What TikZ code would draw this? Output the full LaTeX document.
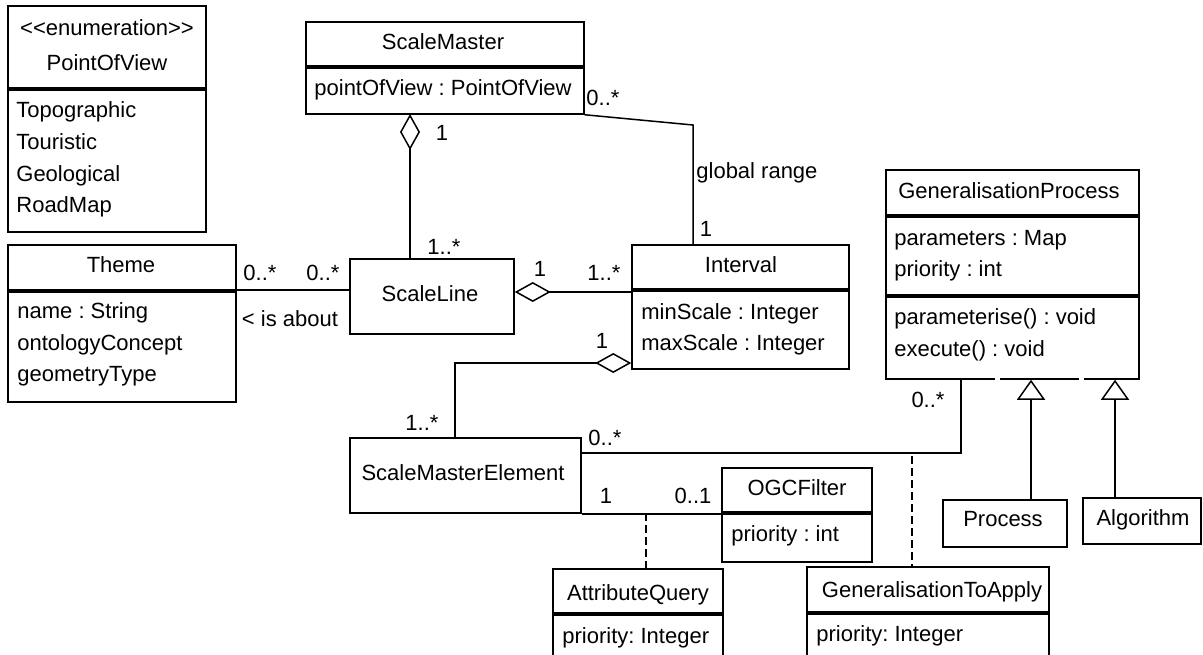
\documentclass[tikz,border=0pt]{standalone}
\usepackage{fontspec}
\setmainfont{Liberation Sans}
\usetikzlibrary{arrows.meta}
\frenchspacing

\tikzset{
  classbox/.style={rectangle, draw=black, line width=0.75pt, inner sep=0pt},
  sepline/.style={line width=1.6pt},
  clsname/.style={anchor=base, inner sep=0pt},
  clsattr/.style={anchor=base west, inner sep=0pt},
  multlabel/.style={anchor=base, inner sep=0pt},
  assoc/.style={line width=0.75pt},
  assocdash/.style={line width=0.75pt, dash pattern=on 4pt off 2pt},
  aggreg/.style={line width=0.75pt, -{Diamond[open, length=18pt, width=10pt]}},
  general/.style={line width=0.75pt, -{Triangle[open, length=10pt, width=14pt]}}
}

\begin{document}
\begin{tikzpicture}[x=0.5pt, y=-0.5pt, font=\fontsize{11pt}{13pt}\selectfont]
  \useasboundingbox (0,0) rectangle (1203,654);

  \node[classbox, minimum width=99pt, minimum height=113pt] (pov) at (107,119) {};
  \node[classbox, minimum width=139pt, minimum height=46pt] (sm) at (445,68) {};
  \node[classbox, minimum width=114pt, minimum height=78.5pt] (theme) at (122,323.5) {};
  \node[classbox, minimum width=82pt, minimum height=37.5pt] (sl) at (432,296.5) {};
  \node[classbox, minimum width=108.5pt, minimum height=62pt] (iv) at (740.5,307) {};
  \node[classbox, minimum width=126.5pt, minimum height=104.5pt] (gp) at (1012.5,274.5) {};
  \node[classbox, minimum width=115.5pt, minimum height=37.5pt] (sme) at (465.5,475.5) {};
  \node[classbox, minimum width=75pt, minimum height=47pt] (ogc) at (797,515) {};
  \node[classbox, minimum width=85pt, minimum height=45.5pt] (aq) at (638,614.5) {};
  \node[classbox, minimum width=121pt, minimum height=46.5pt] (gta) at (928,613.5) {};
  \node[classbox, minimum width=62pt, minimum height=23.5pt] (proc) at (1005,523.5) {};
  \node[classbox, minimum width=59pt, minimum height=23pt] (algo) at (1142,521) {};

  \draw[sepline] (pov.west |- 0,89) -- (pov.east |- 0,89);
  \draw[sepline] (sm.west |- 0,67) -- (sm.east |- 0,67);
  \draw[sepline] (theme.west |- 0,291) -- (theme.east |- 0,291);
  \draw[sepline] (iv.west |- 0,290) -- (iv.east |- 0,290);
  \draw[sepline] (gp.west |- 0,216) -- (gp.east |- 0,216);
  \draw[sepline] (gp.west |- 0,296) -- (gp.east |- 0,296);
  \draw[sepline] (ogc.west |- 0,513) -- (ogc.east |- 0,513);
  \draw[sepline] (aq.west |- 0,614) -- (aq.east |- 0,614);
  \draw[sepline] (gta.west |- 0,613) -- (gta.east |- 0,613);
  \draw[white, line width=1.5pt] (995,379) -- (1000,379);
  \draw[white, line width=1.5pt] (1079,379) -- (1084,379);

  \node[clsname] (povstereo) at (107,35) {<\kern0pt<enumeration>\kern0pt>};
  \node[clsname] (povname) at (107,70) {PointOfView};
  \node[clsattr] (povtopo) at (16,117) {Topographic};
  \node[clsattr] (povtour) at (16,149) {Touristic};
  \node[clsattr] (povgeol) at (16,181) {Geological};
  \node[clsattr] (povroad) at (16,212) {RoadMap};

  \node[clsname] (smname) at (443,49) {ScaleMaster};
  \node[clsattr] (smpov) at (314,95) {pointOfView : PointOfView};

  \node[clsname] (themename) at (121,272) {Theme};
  \node[clsattr] (themeattr1) at (17,318) {name : String};
  \node[clsattr] (themeattr2) at (17,350) {ontologyConcept};
  \node[clsattr] (themeattr3) at (17,381) {geometryType};

  \node[clsname] (slname) at (430,301) {ScaleLine};

  \node[clsname] (ivname) at (741,272) {Interval};
  \node[clsattr] (ivmin) at (641,319) {minScale : Integer};
  \node[clsattr] (ivmax) at (641,350) {maxScale : Integer};

  \node[clsname] (gpname) at (1009,198) {GeneralisationProcess};
  \node[clsattr] (gpparam) at (894,245) {parameters : Map};
  \node[clsattr] (gpprio) at (894,276) {priority : int};
  \node[clsattr] (gpop1) at (894,324) {parameterise() : void};
  \node[clsattr] (gpop2) at (894,356) {execute() : void};

  \node[clsname] (smename) at (463,480) {ScaleMasterElement};

  \node[clsname] (ogcname) at (797,495) {OGCFilter};
  \node[clsattr] (ogcprio) at (731,541) {priority : int};

  \node[clsname] (aqname) at (638,600) {AttributeQuery};
  \node[clsattr] (aqprio) at (562,643) {priority: Integer};

  \node[clsname] (gtaname) at (932,597) {GeneralisationToApply};
  \node[clsattr] (gtaprio) at (816,641) {priority: Integer};

  \node[clsname] (procname) at (1003,526) {Process};
  \node[clsname] (algoname) at (1143,525) {Algorithm};

  \coordinate (smagg) at (410,114);
  \draw[aggreg] (smagg |- sl.north) -- (smagg);
  \draw[assoc] (theme.east |- 0,290) -- (sl.west |- 0,290);
  \draw[aggreg] (iv.west |- 0,292) -- (sl.east |- 0,292);
  \coordinate (grbend) at (693,125);
  \draw[assoc] (sm.south east) -- (grbend) -- (grbend |- iv.north);
  \coordinate (smebend) at (455,363);
  \draw[aggreg] (smebend |- sme.north) -- (smebend) -- (iv.west |- smebend);
  \coordinate (gpbend) at (961,453);
  \draw[assoc] (sme.east |- gpbend) -- (gpbend) -- (gpbend |- gp.south);
  \draw[assoc] (sme.south east) -- (ogc.west |- sme.south east);
  \coordinate (aqlink) at (646,513);
  \draw[assocdash] (aqlink) -- (aqlink |- aq.north);
  \coordinate (gtalink) at (912,456);
  \draw[assocdash] (gtalink) -- (gtalink |- gta.north);
  \draw[general] (proc.north -| 1031,0) -- (gp.south -| 1031,0);
  \draw[general] (algo.north -| 1115,0) -- (gp.south -| 1115,0);

  \node[multlabel] (smaggone) at (442,140) {1};
  \node[multlabel] (smaggmany) at (444,254) {1..*};
  \node[multlabel] (themeend) at (260,280) {0..*};
  \node[multlabel] (slthemeend) at (323,280) {0..*};
  \node[multlabel] (isabout) at (290,326) {< is about};
  \node[multlabel] (slivone) at (540,276) {1};
  \node[multlabel] (slivmany) at (604,280) {1..*};
  \node[multlabel] (grsmend) at (603,105) {0..*};
  \node[anchor=base west, inner sep=0pt] (grlabel) at (696,178) {global range};
  \node[multlabel] (grivend) at (706,236) {1};
  \node[multlabel] (ivsmeone) at (602,348) {1};
  \node[multlabel] (ivsmemany) at (422,430) {1..*};
  \node[multlabel] (smegpend) at (605,445) {0..*};
  \node[multlabel] (smeogcone) at (606,503) {1};
  \node[multlabel] (smeogcopt) at (693,503) {0..1};
  \node[multlabel] (gpsmeend) at (928,407) {0..*};
\end{tikzpicture}
\end{document}
